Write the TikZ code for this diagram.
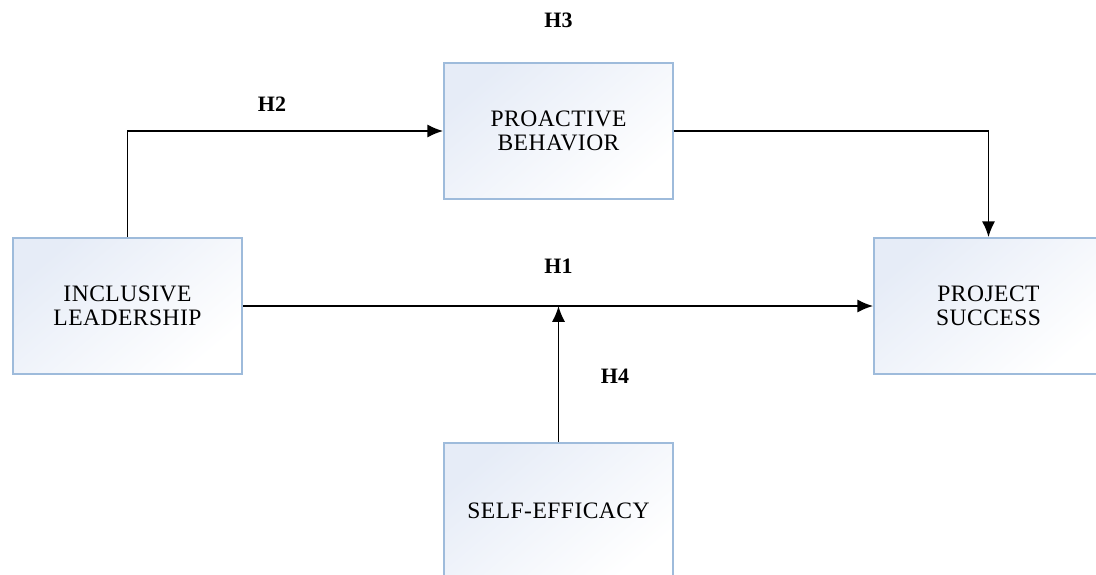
\documentclass[tikz,border=0pt]{standalone}
\usepackage{fontspec}
\setmainfont{Liberation Serif}
\newfontfamily\boxfont[LetterSpace=2]{Liberation Serif}
\usetikzlibrary{arrows.meta,positioning}
\definecolor{boxedge}{HTML}{9EBBDB}
\definecolor{boxfill}{HTML}{E6ECF7}
\begin{document}
\begin{tikzpicture}[boxstyle/.style={rectangle,draw=boxedge,line width=0.9pt,
    top color=boxfill,bottom color=white,shading angle=40,
    minimum width=4.58cm,minimum height=2.72cm,align=center,
    font=\boxfont\fontsize{13.4}{13.6}\selectfont,inner sep=0pt},
  hstyle/.style={font=\fontsize{12.5}{14}\selectfont\bfseries},
  link/.style={line width=1.1pt,-{Latex[length=9pt,width=7.5pt]}}]
    \useasboundingbox (0,0) rectangle (21.92,11.48);
    \begin{scope}
    \clip (0,0) rectangle (21.92,11.48);
    \node[boxstyle] (il) at (2.55,5.36) {INCLUSIVE\\LEADERSHIP};
    \node[boxstyle] (pb) at (11.17,8.86) {PROACTIVE\\BEHAVIOR};
    \node[boxstyle] (ps) at (19.77,5.36) {PROJECT\\SUCCESS};
    \node[boxstyle] (se) at (11.17,1.26) {SELF-EFFICACY};
    \end{scope}
    \node[hstyle] (h3) at (11.17,11.08) {H3};
    \node[hstyle] (h2) at (5.44,9.40) {H2};
    \node[hstyle] (h1) at (11.17,6.16) {H1};
    \node[hstyle] (h4) at (12.30,3.96) {H4};
    \coordinate (h1mid) at (se.north |- il.east);
    \draw[link] (il.north) |- (pb.west);
    \draw[link] (pb.east) -| (ps.north);
    \draw[link] (il.east) -- (ps.west);
    \draw[link] (se.north) -- (h1mid);
\end{tikzpicture}
\end{document}
